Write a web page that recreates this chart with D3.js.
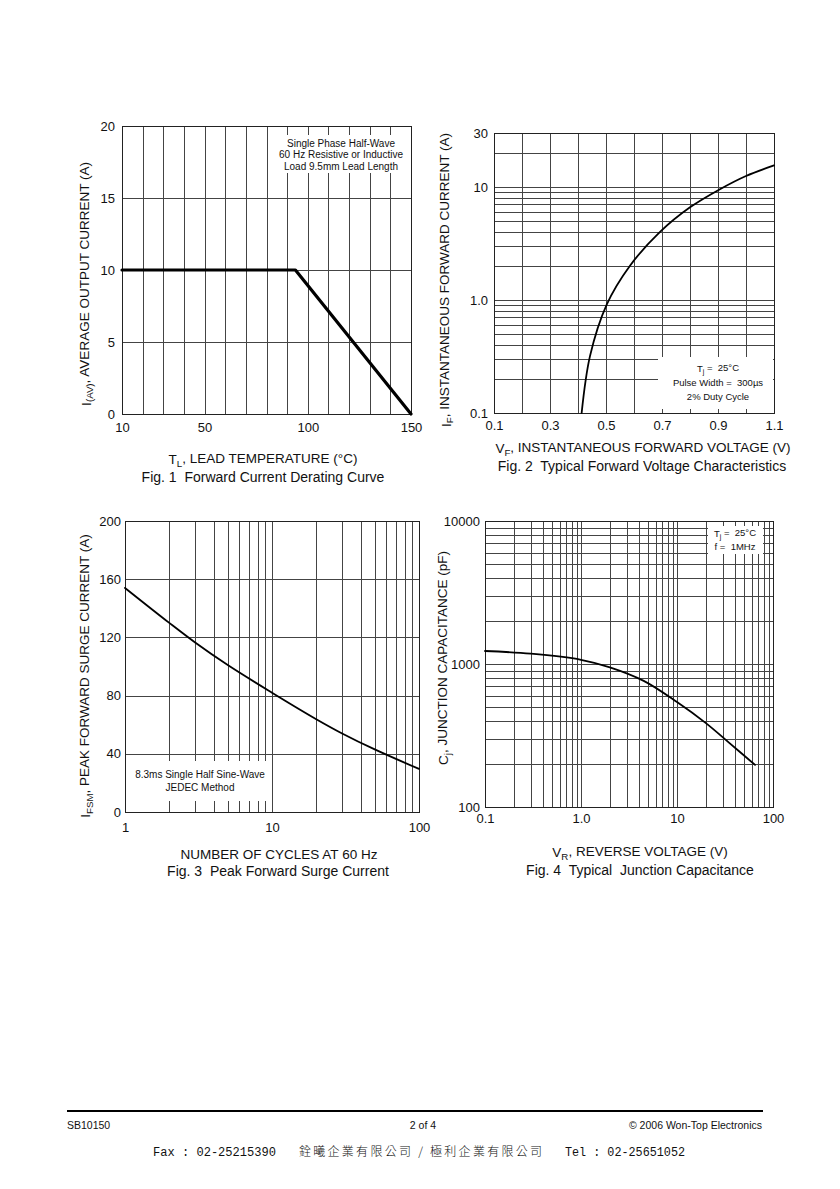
<!DOCTYPE html>
<html>
<head>
<meta charset="utf-8">
<script src="https://cdn.jsdelivr.net/npm/d3@7"></script>
<style>
  body { margin: 0; background: #fff; }
  svg { display: block; font-family: "Liberation Sans", Arial, sans-serif; fill: #111; }
  text { white-space: pre; }
  .grid line { stroke: #444; stroke-width: 1; shape-rendering: crispEdges; }
  .frame { fill: none; stroke: #222; stroke-width: 1; shape-rendering: crispEdges; }
  .curve { fill: none; stroke: #000; stroke-linejoin: round; stroke-linecap: round; }
  .note { text-anchor: middle; }
  .title { font-size: 13.5px; text-anchor: middle; }
  .caption { font-size: 14px; text-anchor: middle; }
</style>
</head>
<body>
<div class="chart"></div>
<script>
"use strict";

// Fig. 1 - forward current derating
const deratingTemp = [10, 94, 150];
const deratingCurrent = [10, 10, 0];
const fig1XTicks = [10, 50, 100, 150];
const fig1YTicks = [0, 5, 10, 15, 20];

// Fig. 2 - forward voltage characteristics
const forwardVoltage = [0.413, 0.443, 0.5025, 0.585, 0.693, 0.8, 0.907, 1.0, 1.1];
const forwardCurrent = [0.1, 0.32, 0.91, 2.0, 4.0, 6.6, 9.55, 12.5, 15.5];
const fig2XTicks = [0.1, 0.3, 0.5, 0.7, 0.9, 1.1];
const fig2YTicks = [0.1, 1, 10, 30];

// Fig. 3 - peak forward surge current
const surgeCycles = [1, 2, 3, 5, 10, 20, 30, 50, 100];
const surgeCurrent = [154, 130, 116.5, 101, 82, 63.8, 54, 43, 29.6];
const fig3XTicks = [1, 10, 100];
const fig3YTicks = [0, 40, 80, 120, 160, 200];

// Fig. 4 - junction capacitance
const reverseVoltage = [0.1, 0.3, 1.0, 2.0, 4.5, 10, 20, 35, 65];
const capacitance = [1233, 1180, 1070, 947, 762, 542, 386, 281, 197];
const fig4XTicks = [0.1, 1, 10, 100];
const fig4YTicks = [100, 1000, 10000];

const svg = d3.select(".chart").append("svg")
  .attr("width", 840)
  .attr("height", 1189);

// text with subscript parts: [["I"], ["(AV)", true], [", AVERAGE ..."]]
function richText(sel, parts) {
  let down = false;
  parts.forEach(([t, sub]) => {
    let dy = null;
    if (sub && !down) dy = "0.3em";
    if (!sub && down) dy = "-0.3em";
    down = !!sub;
    sel.append("tspan")
      .attr("font-size", sub ? "0.72em" : null)
      .attr("dy", dy)
      .text(t);
  });
}

function panel(p) {
  const g = svg.append("g");
  const x = p.x, y = p.y;

  const grid = g.append("g").attr("class", "grid");
  grid.selectAll(".gx").data(p.xGrid).join("line")
    .attr("x1", (d) => Math.round(x(d)) + 0.5).attr("x2", (d) => Math.round(x(d)) + 0.5)
    .attr("y1", p.top).attr("y2", p.bottom);
  grid.selectAll(".gy").data(p.yGrid).join("line")
    .attr("y1", (d) => Math.round(y(d)) + 0.5).attr("y2", (d) => Math.round(y(d)) + 0.5)
    .attr("x1", p.left).attr("x2", p.right);

  // white box behind the conditions note
  const nb = p.noteBox;
  g.append("rect").attr("x", nb[0]).attr("y", nb[1])
    .attr("width", nb[2] - nb[0]).attr("height", nb[3] - nb[1])
    .attr("fill", "#fff");

  g.append("rect").attr("class", "frame")
    .attr("x", p.left + 0.5).attr("y", p.top + 0.5)
    .attr("width", p.right - p.left).attr("height", p.bottom - p.top);

  g.append("path").attr("class", "curve")
    .attr("stroke-width", p.lineWidth)
    .attr("d", d3.line().x((d) => x(d[0])).y((d) => y(d[1])).curve(p.curve)(d3.zip(p.xs, p.ys)));

  const notes = g.append("text").attr("class", "note").attr("font-size", p.noteSize);
  p.notes.forEach((parts, i) => {
    const t = notes.append("tspan").attr("x", p.noteX).attr("y", p.noteY + i * p.noteStep);
    richText(t, parts);
  });

  // axes
  g.append("g").attr("transform", `translate(0,${p.bottom})`)
    .call(d3.axisBottom(x).tickValues(p.xTicks).tickFormat(p.xFmt).tickSize(0).tickPadding(p.xPad))
    .call((a) => a.select(".domain").remove())
    .attr("font-family", null).attr("font-size", 13);
  g.append("g").attr("transform", `translate(${p.left},0)`)
    .call(d3.axisLeft(y).tickValues(p.yTicks).tickFormat(p.yFmt).tickSize(0).tickPadding(p.yPad))
    .call((a) => a.select(".domain").remove())
    .attr("font-family", null).attr("font-size", 13);
  g.selectAll(".tick text").attr("fill", "#111");

  richText(g.append("text").attr("class", "title")
    .attr("x", p.xTitlePos[0]).attr("y", p.xTitlePos[1]), p.xTitle);
  g.append("text").attr("class", "caption")
    .attr("x", p.captionPos[0]).attr("y", p.captionPos[1])
    .text(p.caption);
  richText(g.append("text").attr("class", "title").attr("font-size", 14)
    .attr("transform", `translate(${p.yTitlePos[0]},${p.yTitlePos[1]}) rotate(-90)`), p.yTitle);
}

const smooth = d3.curveCatmullRom.alpha(0.5);

// Fig. 1
const x1 = d3.scaleLinear().domain([10, 150]).range([122, 411]);
const y1 = d3.scaleLinear().domain([0, 20]).range([414, 126]);
panel({
  x: x1, y: y1, left: 122, right: 411, top: 126, bottom: 414,
  xGrid: d3.range(10, 151, 10), yGrid: fig1YTicks,
  xs: deratingTemp, ys: deratingCurrent, lineWidth: 3.2, curve: d3.curveLinear,
  xTicks: fig1XTicks, yTicks: fig1YTicks, xFmt: d3.format("d"), yFmt: d3.format("d"),
  xPad: 9, yPad: 7,
  noteBox: [270, 135, 408, 173], noteX: 341, noteY: 146.5, noteStep: 11.5, noteSize: 10,
  notes: [[["Single Phase Half-Wave"]], [["60 Hz Resistive or Inductive"]], [["Load 9.5mm Lead Length"]]],
  xTitle: [["T"], ["L", true], [", LEAD TEMPERATURE (°C)"]], xTitlePos: [263, 464],
  caption: "Fig. 1  Forward Current Derating Curve", captionPos: [263, 482],
  yTitle: [["I"], ["(AV)", true], [", AVERAGE OUTPUT CURRENT (A)"]], yTitlePos: [90.5, 284]
});

// Fig. 2
const x2 = d3.scaleLinear().domain([0.1, 1.1]).range([494, 774]);
const y2 = d3.scaleLog().domain([0.1, 30]).range([413, 133]);
panel({
  x: x2, y: y2, left: 494, right: 774, top: 133, bottom: 413,
  xGrid: d3.range(0, 11).map((i) => 0.1 + i / 10), yGrid: y2.ticks(),
  xs: forwardVoltage, ys: forwardCurrent, lineWidth: 1.8, curve: smooth,
  xTicks: fig2XTicks, yTicks: fig2YTicks, xFmt: d3.format(".1f"),
  yFmt: (d) => (d < 10 ? d3.format(".1f")(d) : d3.format("d")(d)),
  xPad: 8, yPad: 6,
  noteBox: [658, 357, 773, 409], noteX: 718, noteY: 371.5, noteStep: 14, noteSize: 9.5,
  notes: [[["T"], ["j", true], [" =  25°C"]], [["Pulse Width =  300µs"]], [["2% Duty Cycle"]]],
  xTitle: [["V"], ["F", true], [", INSTANTANEOUS FORWARD VOLTAGE (V)"]], xTitlePos: [643, 453],
  caption: "Fig. 2  Typical Forward Voltage Characteristics", captionPos: [642, 471],
  yTitle: [["I"], ["F", true], [", INSTANTANEOUS FORWARD CURRENT (A)"]], yTitlePos: [450.5, 280]
});

// Fig. 3
const x3 = d3.scaleLog().domain([1, 100]).range([125, 419]);
const y3 = d3.scaleLinear().domain([0, 200]).range([812, 521]);
panel({
  x: x3, y: y3, left: 125, right: 419, top: 521, bottom: 812,
  xGrid: x3.ticks(), yGrid: fig3YTicks,
  xs: surgeCycles, ys: surgeCurrent, lineWidth: 1.8, curve: smooth,
  xTicks: fig3XTicks, yTicks: fig3YTicks, xFmt: d3.format("d"), yFmt: d3.format("d"),
  xPad: 11, yPad: 4,
  noteBox: [126, 761, 270, 801], noteX: 200, noteY: 778, noteStep: 13, noteSize: 10,
  notes: [[["8.3ms Single Half Sine-Wave"]], [["JEDEC Method"]]],
  xTitle: [["NUMBER OF CYCLES AT 60 Hz"]], xTitlePos: [279, 859],
  caption: "Fig. 3  Peak Forward Surge Current", captionPos: [278, 876],
  yTitle: [["I"], ["FSM", true], [", PEAK FORWARD SURGE CURRENT (A)"]], yTitlePos: [90, 676]
});

// Fig. 4
const x4 = d3.scaleLog().domain([0.1, 100]).range([485, 773]);
const y4 = d3.scaleLog().domain([100, 10000]).range([807, 521]);
panel({
  x: x4, y: y4, left: 485, right: 773, top: 521, bottom: 807,
  xGrid: x4.ticks(), yGrid: y4.ticks(),
  xs: reverseVoltage, ys: capacitance, lineWidth: 1.8, curve: smooth,
  xTicks: fig4XTicks, yTicks: fig4YTicks,
  xFmt: (d) => (d < 10 ? d3.format(".1f")(d) : d3.format("d")(d)), yFmt: d3.format("d"),
  xPad: 7, yPad: 5,
  noteBox: [708, 526, 763, 554], noteX: 735, noteY: 537, noteStep: 13, noteSize: 9.5,
  notes: [[["T"], ["j", true], [" =  25°C"]], [["f =  1MHz"]]],
  xTitle: [["V"], ["R", true], [", REVERSE VOLTAGE (V)"]], xTitlePos: [640, 857],
  caption: "Fig. 4  Typical  Junction Capacitance", captionPos: [640, 875],
  yTitle: [["C"], ["j", true], [", JUNCTION CAPACITANCE (pF)"]], yTitlePos: [448, 658]
});

// footer
svg.append("line").attr("x1", 67).attr("x2", 763).attr("y1", 1111).attr("y2", 1111)
  .attr("stroke", "#000").attr("stroke-width", 2);
svg.append("text").attr("x", 67).attr("y", 1129).attr("font-size", 10.5).text("SB10150");
svg.append("text").attr("x", 423).attr("y", 1129).attr("font-size", 10.5)
  .attr("text-anchor", "middle").text("2 of 4");
svg.append("text").attr("x", 762).attr("y", 1129).attr("font-size", 10.5)
  .attr("text-anchor", "end").text("© 2006 Won-Top Electronics");
svg.append("text").attr("x", 153).attr("y", 1156).attr("font-size", 12)
  .attr("font-family", "'Liberation Mono', monospace")
  .attr("textLength", 123).attr("lengthAdjust", "spacingAndGlyphs")
  .text("Fax : 02-25215390");
svg.append("text").attr("x", 299).attr("y", 1156).attr("font-size", 12)
  .attr("font-family", "'Noto Sans CJK TC', sans-serif").attr("font-weight", 300)
  .attr("textLength", 243).attr("lengthAdjust", "spacing")
  .text("銓曦企業有限公司 / 極利企業有限公司");
svg.append("text").attr("x", 565).attr("y", 1156).attr("font-size", 12)
  .attr("font-family", "'Liberation Mono', monospace")
  .attr("textLength", 120).attr("lengthAdjust", "spacingAndGlyphs")
  .text("Tel : 02-25651052");
</script>
</body>
</html>
